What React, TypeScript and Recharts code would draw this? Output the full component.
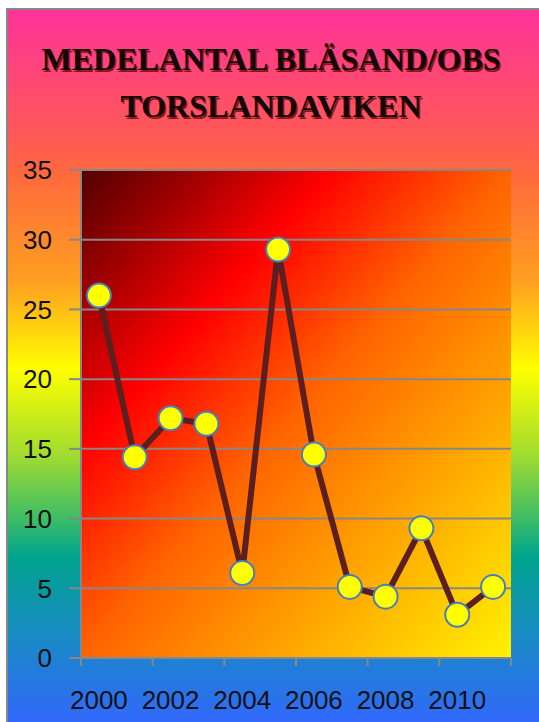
import React from 'react';
import { LineChart, Line, XAxis, YAxis, CartesianGrid } from 'recharts';

const years = ['2000', '2001', '2002', '2003', '2004', '2005', '2006', '2007', '2008', '2009', '2010', '2011'];
const values = [26, 14.4, 17.2, 16.8, 6.1, 29.3, 14.6, 5.1, 4.4, 9.3, 3.1, 5.1];
const yTicks = [0, 5, 10, 15, 20, 25, 30, 35];
const titleLines = ['MEDELANTAL BLÄSAND/OBS', 'TORSLANDAVIKEN'];

const data = years.map((year, i) => ({ year, value: values[i] }));

const GRAY = '#878787';
const LABEL_FONT = '"Liberation Sans", Arial, sans-serif';
const TITLE_FONT = '"Liberation Serif", "Times New Roman", serif';

const XTick = (props: any) => {
  const { x, y, payload, index } = props;
  const off = payload && payload.offset ? payload.offset : 0;
  const axisY = y - 8;
  return (
    <g>
      {index % 2 === 0 && (
        <line x1={x - off} x2={x - off} y1={axisY} y2={axisY + 8} stroke={GRAY} strokeWidth={2} />
      )}
      {index === years.length - 1 && (
        <line x1={x + off} x2={x + off} y1={axisY} y2={axisY + 8} stroke={GRAY} strokeWidth={2} />
      )}
      {index % 2 === 0 && (
        <text x={x} y={axisY + 51} textAnchor="middle" fill="#111" fontSize={26} fontFamily={LABEL_FONT}>
          {payload.value}
        </text>
      )}
    </g>
  );
};

export default function App() {
  return (
    <div style={{ position: 'absolute', left: 0, top: 0, width: 539, height: 722, overflow: 'hidden', background: '#fff' }}>
      <div
        style={{
          position: 'absolute',
          left: 6,
          top: 8,
          width: 540,
          height: 720,
          boxSizing: 'border-box',
          borderLeft: `2px solid ${GRAY}`,
          borderTop: `2px solid ${GRAY}`,
          background:
            'linear-gradient(to bottom, #ff3399 0%, #ff5a55 18%, #ff6a3c 23%, #ffa020 38%, #ffff00 50%, #a0dc30 62%, #3cbc68 71%, #00a48c 76%, #1a88c8 88%, #3366ff 100%)',
        }}
      />
      <svg width={539} height={140} style={{ position: 'absolute', left: 0, top: 0 }}>
        {titleLines.map((t, i) => {
          const y = i === 0 ? 70 : 117;
          return (
            <g key={t}>
              <text
                x={272.5}
                y={y + 1.5}
                textAnchor="middle"
                fontFamily={TITLE_FONT}
                fontWeight="bold"
                fontSize={32}
                fill="#8a1515"
              >
                {t}
              </text>
              <text
                x={271}
                y={y}
                textAnchor="middle"
                fontFamily={TITLE_FONT}
                fontWeight="bold"
                fontSize={32}
                fill="#120808"
              >
                {t}
              </text>
            </g>
          );
        })}
      </svg>
      <div style={{ position: 'absolute', left: 0, top: 0 }}>
        <LineChart width={539} height={722} data={data} margin={{ top: 170, right: 28, bottom: 24, left: 0 }}>
          <defs>
            <linearGradient id="plotGrad" x1="0" y1="0" x2="1" y2="1">
              <stop offset="0" stopColor="#520000" />
              <stop offset="0.15" stopColor="#a80000" />
              <stop offset="0.29" stopColor="#ff0000" />
              <stop offset="0.5" stopColor="#ff6400" />
              <stop offset="0.75" stopColor="#ffab00" />
              <stop offset="1" stopColor="#fff200" />
            </linearGradient>
          </defs>
          <CartesianGrid vertical={false} stroke={GRAY} strokeWidth={2} fill="url(#plotGrad)" fillOpacity={1} />
          <XAxis
            dataKey="year"
            scale="band"
            interval={0}
            height={40}
            tickSize={8}
            tickMargin={0}
            tickLine={false}
            axisLine={{ stroke: GRAY, strokeWidth: 2 }}
            tick={<XTick />}
          />
          <YAxis
            width={81}
            domain={[0, 35]}
            ticks={yTicks}
            interval={0}
            tickSize={12}
            tickMargin={17}
            tickLine={{ stroke: GRAY, strokeWidth: 2 }}
            axisLine={{ stroke: GRAY, strokeWidth: 2 }}
            tick={{ fill: '#111', fontSize: 26, fontFamily: LABEL_FONT }}
          />
          <Line
            type="linear"
            dataKey="value"
            stroke="#5c1f1f"
            strokeWidth={6}
            dot={{ r: 12, fill: '#ffff00', stroke: '#4a7ebb', strokeWidth: 2 }}
            isAnimationActive={false}
          />
        </LineChart>
      </div>
    </div>
  );
}
